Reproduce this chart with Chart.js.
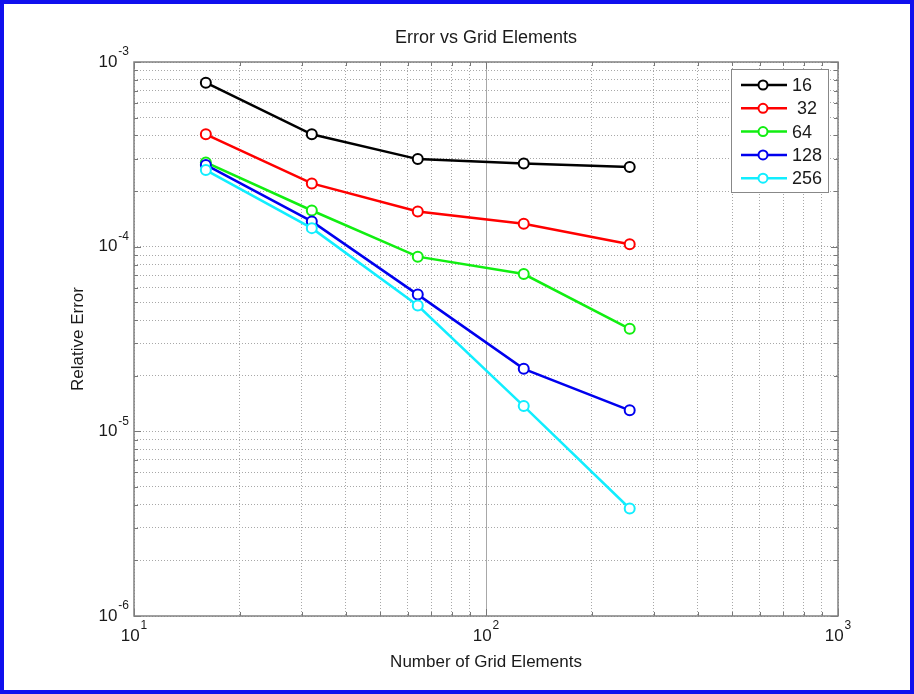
<!DOCTYPE html>
<html>
<head>
<meta charset="utf-8">
<title>Error vs Grid Elements</title>
<script src="https://cdn.jsdelivr.net/npm/chart.js@4.4.1/dist/chart.umd.min.js"></script>
<style>
  html, body { margin:0; padding:0; background:#fff; }
  canvas { display:block; }
</style>
</head>
<body>
<canvas id="chart" width="914" height="694"></canvas>
<script>
const gridElements = [16, 32, 64, 128, 256];
const seriesLabels = ['16', ' 32', '64', '128', '256'];
const err16  = [7.73e-4, 4.06e-4, 2.98e-4, 2.82e-4, 2.70e-4];
const err32  = [4.06e-4, 2.20e-4, 1.55e-4, 1.33e-4, 1.03e-4];
const err64  = [2.86e-4, 1.57e-4, 8.83e-5, 7.11e-5, 3.59e-5];
const err128 = [2.77e-4, 1.37e-4, 5.50e-5, 2.18e-5, 1.30e-5];
const err256 = [2.60e-4, 1.26e-4, 4.80e-5, 1.37e-5, 3.82e-6];
const seriesColors = ['#000000', '#ff0000', '#11ee11', '#0000ee', '#11eeff'];

const xMajorTicks = [10, 100, 1000];
const xTickExps = ['1', '2', '3'];
const yMajorTicks = [1e-6, 1e-5, 1e-4, 1e-3];
const yTickExps = ['-6', '-5', '-4', '-3'];

const FONT = '"Liberation Sans", Arial, Helvetica, sans-serif';
const TEXT = '#1a1a1a';

// decade ticks 1..9 between majors, like a matlab log grid
function logTicks(majors) {
  const out = [];
  for (let i = 0; i < majors.length - 1; i++) {
    for (let k = 1; k < 10; k++) out.push({ value: majors[i] * k, major: k === 1 });
  }
  out.push({ value: majors[majors.length - 1], major: true });
  return out;
}

const allSeries = [err16, err32, err64, err128, err256];
const datasets = allSeries.map((ys, i) => ({
  label: seriesLabels[i],
  data: gridElements.map((x, j) => ({ x: x, y: ys[j] })),
  borderColor: seriesColors[i],
  backgroundColor: seriesColors[i],
  pointBackgroundColor: '#fff',
  pointBorderColor: seriesColors[i],
  pointRadius: 5,
  pointBorderWidth: 2,
  borderWidth: 2.5,
  order: allSeries.length - i,
  clip: false
}));

function gridDash(ctx) { return ctx.tick && ctx.tick.value === 100 ? [] : [1, 2]; }

function drawPow(ctx, exp, x, y, align) {
  ctx.font = '17px ' + FONT;
  const w10 = ctx.measureText('10').width;
  ctx.font = '12px ' + FONT;
  const wExp = ctx.measureText(exp).width;
  const total = w10 + wExp + 1;
  const start = align === 'right' ? x - total : x - total / 2;
  ctx.textAlign = 'left';
  ctx.textBaseline = 'middle';
  ctx.fillStyle = TEXT;
  ctx.font = '17px ' + FONT;
  ctx.fillText('10', start, y);
  ctx.font = '12px ' + FONT;
  ctx.fillText(exp, start + w10 + 1, y - 10);
}

const matlabDecor = {
  id: 'matlabDecor',
  afterDraw(chart) {
    const { ctx, chartArea: a, scales: { x, y } } = chart;
    ctx.save();

    // inward tick marks on all four sides
    ctx.strokeStyle = '#777';
    ctx.lineWidth = 1;
    ctx.beginPath();
    x.ticks.forEach(t => {
      const px = Math.round(x.getPixelForValue(t.value)) + 0.5;
      const len = t.major ? 7 : 4;
      ctx.moveTo(px, a.bottom); ctx.lineTo(px, a.bottom - len);
      ctx.moveTo(px, a.top); ctx.lineTo(px, a.top + len);
    });
    y.ticks.forEach(t => {
      const py = Math.round(y.getPixelForValue(t.value)) + 0.5;
      const len = t.major ? 7 : 4;
      ctx.moveTo(a.left, py); ctx.lineTo(a.left + len, py);
      ctx.moveTo(a.right, py); ctx.lineTo(a.right - len, py);
    });
    ctx.stroke();

    // axes box
    ctx.strokeStyle = '#808080';
    ctx.lineWidth = 1.5;
    ctx.strokeRect(a.left, a.top, a.right - a.left, a.bottom - a.top);

    // tick labels 10^n
    xMajorTicks.forEach((v, i) => drawPow(ctx, xTickExps[i], x.getPixelForValue(v), a.bottom + 20, 'center'));
    yMajorTicks.forEach((v, i) => drawPow(ctx, yTickExps[i], a.left - 5, y.getPixelForValue(v), 'right'));

    // legend box
    const lx = 731, ly = 69, lw = 97, lh = 123, row = 23.3;
    ctx.fillStyle = '#fff';
    ctx.fillRect(lx, ly, lw, lh);
    ctx.strokeStyle = '#888';
    ctx.lineWidth = 1;
    ctx.strokeRect(lx + 0.5, ly + 0.5, lw, lh);
    chart.data.datasets.forEach((ds, i) => {
      const cy = ly + 16 + i * row;
      ctx.strokeStyle = ds.borderColor;
      ctx.lineWidth = 2.5;
      ctx.beginPath();
      ctx.moveTo(lx + 10, cy); ctx.lineTo(lx + 56, cy);
      ctx.stroke();
      ctx.beginPath();
      ctx.arc(lx + 32, cy, 4.5, 0, Math.PI * 2);
      ctx.fillStyle = '#fff';
      ctx.fill();
      ctx.lineWidth = 2;
      ctx.stroke();
      ctx.fillStyle = TEXT;
      ctx.font = '18px ' + FONT;
      ctx.textAlign = 'left';
      ctx.textBaseline = 'middle';
      ctx.fillText(ds.label, lx + 61, cy + 1);
    });

    // blue frame round the figure
    ctx.strokeStyle = '#1010ee';
    ctx.lineWidth = 4;
    ctx.strokeRect(2, 2, chart.width - 4, chart.height - 4);
    ctx.restore();
  }
};

new Chart(document.getElementById('chart').getContext('2d'), {
  type: 'line',
  data: { datasets: datasets },
  options: {
    responsive: false,
    animation: false,
    layout: { padding: { left: 0, right: 76, top: 0, bottom: 0 } },
    plugins: {
      legend: { display: false },
      tooltip: { enabled: false },
      title: {
        display: true,
        fullSize: false,
        text: 'Error vs Grid Elements',
        color: TEXT,
        font: { family: FONT, size: 18, weight: 'normal' },
        padding: { top: 27, bottom: 13.4 }
      }
    },
    scales: {
      x: {
        type: 'logarithmic',
        min: 10, max: 1000,
        afterBuildTicks: s => { s.ticks = logTicks(xMajorTicks); },
        afterFit: s => { s.height = 78; },
        ticks: { display: false, autoSkip: false },
        grid: { color: '#a8a8a8', lineWidth: 1, drawTicks: false },
        border: { display: false, dash: gridDash },
        title: {
          display: true, text: 'Number of Grid Elements', color: TEXT,
          font: { family: FONT, size: 17 }, padding: { top: 0, bottom: 21 }
        }
      },
      y: {
        type: 'logarithmic',
        min: 1e-6, max: 1e-3,
        afterBuildTicks: s => { s.ticks = logTicks(yMajorTicks); },
        afterFit: s => { s.width = 134; },
        ticks: { display: false, autoSkip: false },
        grid: { color: '#a8a8a8', lineWidth: 1, drawTicks: false },
        border: { display: false, dash: [1, 2] },
        title: {
          display: true, text: 'Relative Error', color: TEXT,
          font: { family: FONT, size: 17 }, padding: { top: 68, bottom: 0 }
        }
      }
    }
  },
  plugins: [matlabDecor]
});
</script>
</body>
</html>
